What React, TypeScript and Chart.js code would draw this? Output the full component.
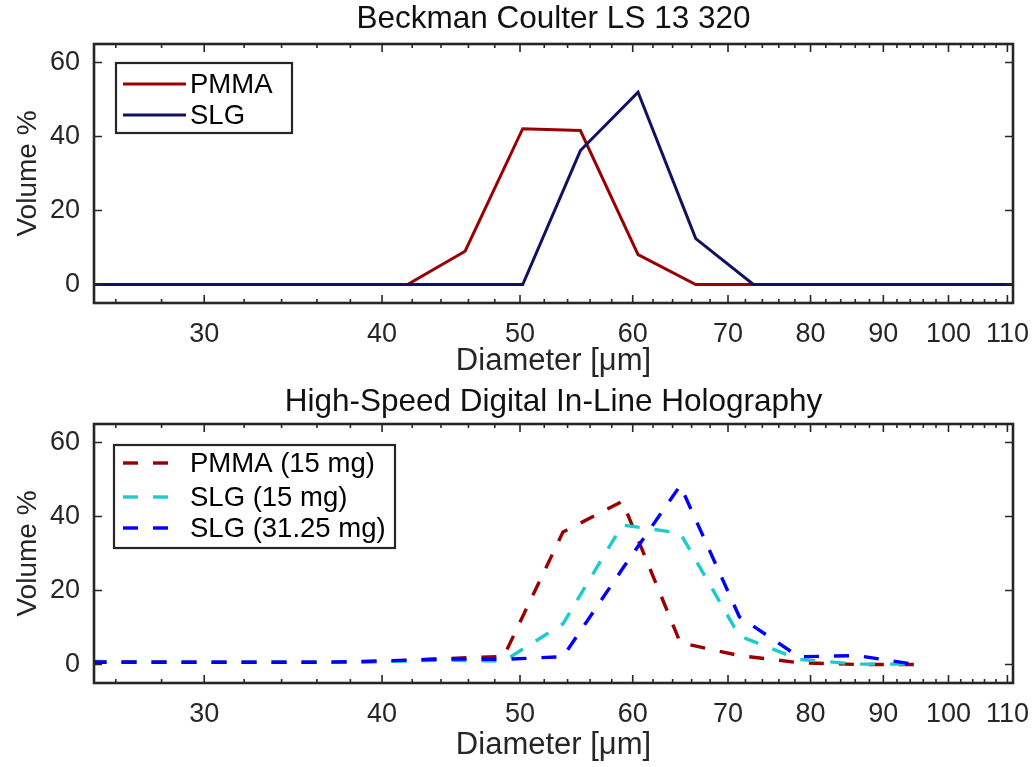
import React, { useEffect, useRef } from 'react';
import { Chart, registerables } from 'chart.js';

Chart.register(...registerables);

// ---------- data ----------
const xTickValues = [30, 40, 50, 60, 70, 80, 90, 100, 110];
const xMinorTickValues = [26, 28, 32, 34, 36, 38, 42, 44, 46, 48, 52, 54, 56, 58, 62, 64, 66, 68, 72, 74, 76, 78, 82, 84, 86, 88, 92, 94, 96, 98, 102, 104, 106, 108];
const yTickValues = [0, 20, 40, 60];

const lsDiameters = [25, 41.68, 45.75, 50.22, 55.13, 60.52, 66.44, 72.94, 111];
const lsPMMA = [0, 0, 9.0, 42.1, 41.6, 8.1, 0, 0, 0];
const lsSLG = [0, 0, 0, 0, 36.2, 52.0, 12.4, 0, 0];

const holoDiameters = [25.0, 27.5, 30.3, 33.3, 36.6, 40.3, 44.3, 48.7, 53.6, 59.0, 64.8, 71.3, 78.5, 86.3, 94.9];
const holoPMMA15 = [0.8, 0.7, 0.6, 0.6, 0.6, 0.8, 1.6, 2.2, 35.8, 44.1, 5.9, 2.4, 0.5, 0.0, 0.0];
const holoSLG15 = [0.6, 0.6, 0.6, 0.6, 0.6, 0.8, 1.2, 0.9, 11.0, 37.7, 35.5, 7.7, 1.4, 0.1, 0.1];
const holoSLG3125 = [0.6, 0.6, 0.6, 0.6, 0.6, 1.0, 1.5, 1.4, 2.1, 25.8, 48.4, 12.9, 2.1, 2.4, 0.0];

const topTitle = 'Beckman Coulter LS 13 320';
const bottomTitle = 'High-Speed Digital In-Line Holography';
const xLabel = 'Diameter [μm]';
const yLabel = 'Volume %';

// ---------- styles ----------
const FONT = '"Liberation Sans", Arial, Helvetica, sans-serif';
const AXIS_COLOR = '#262626';
const RED = '#990000';
const NAVY = '#12125e';
const CYAN = '#1ccccc';
const BLUE = '#0000ff';

const toPoints = (xs: number[], ys: number[]) => xs.map((x, i) => ({ x, y: ys[i] }));

type LegendLayout = {
  x: number; y: number; w: number; h: number;
  rowY: number[]; sampleFrom: number; sampleTo: number; textX: number;
};

const makeFramePlugin = (title: string, titleY: number, legend: LegendLayout) => ({
  id: 'matlabFrame',
  afterDatasetsDraw(chart: any) {
    const { ctx, chartArea: a, scales } = chart;
    ctx.save();
    ctx.strokeStyle = AXIS_COLOR;
    ctx.lineWidth = 1.6;
    ctx.setLineDash([]);
    ctx.beginPath();
    const xTicks = (vals: number[], len: number) => {
      vals.forEach((v) => {
        const px = scales.x.getPixelForValue(v);
        ctx.moveTo(px, a.bottom);
        ctx.lineTo(px, a.bottom - len);
        ctx.moveTo(px, a.top);
        ctx.lineTo(px, a.top + len);
      });
    };
    xTicks(xTickValues, 8);
    xTicks(xMinorTickValues, 4);
    yTickValues.forEach((v) => {
      const py = scales.y.getPixelForValue(v);
      ctx.moveTo(a.left, py);
      ctx.lineTo(a.left + 8, py);
      ctx.moveTo(a.right, py);
      ctx.lineTo(a.right - 8, py);
    });
    ctx.stroke();

    // frame
    ctx.lineWidth = 2.6;
    ctx.strokeRect(a.left, a.top, a.right - a.left, a.bottom - a.top);

    // title centred over the axes box
    ctx.fillStyle = '#111111';
    ctx.font = `31.5px ${FONT}`;
    ctx.textAlign = 'center';
    ctx.textBaseline = 'middle';
    ctx.fillText(title, (a.left + a.right) / 2, titleY);

    // legend
    ctx.fillStyle = '#ffffff';
    ctx.fillRect(legend.x, legend.y, legend.w, legend.h);
    ctx.lineWidth = 2.2;
    ctx.strokeStyle = AXIS_COLOR;
    ctx.strokeRect(legend.x, legend.y, legend.w, legend.h);
    ctx.font = `27.5px ${FONT}`;
    ctx.textBaseline = 'middle';
    ctx.textAlign = 'left';
    chart.data.datasets.forEach((ds: any, i: number) => {
      const y = legend.rowY[i];
      ctx.beginPath();
      ctx.strokeStyle = ds.borderColor;
      ctx.lineWidth = ds.borderWidth;
      ctx.setLineDash(ds.borderDash || []);
      ctx.moveTo(legend.sampleFrom, y);
      ctx.lineTo(legend.sampleTo, y);
      ctx.stroke();
      ctx.setLineDash([]);
      ctx.fillStyle = '#000000';
      ctx.fillText(ds.label, legend.textX, y + 1);
    });
    ctx.restore();
  },
});

const makeOptions = (xAxisHeight: number, xTitlePad: number) => ({
  responsive: false,
  maintainAspectRatio: false,
  animation: false as const,
  layout: { padding: { left: 0, right: 23, top: 44, bottom: 0 } },
  elements: { point: { radius: 0, hoverRadius: 0 }, line: { tension: 0 } },
  plugins: {
    legend: { display: false },
    tooltip: { enabled: false },
    title: { display: false },
  },
  scales: {
    x: {
      type: 'logarithmic' as const,
      min: 25.1,
      max: 111,
      grid: { display: false, drawTicks: false },
      border: { display: false },
      afterBuildTicks: (scale: any) => {
        scale.ticks = xTickValues.map((v) => ({ value: v }));
      },
      afterFit: (scale: any) => {
        scale.height = xAxisHeight;
        scale.paddingLeft = 0;
        scale.paddingRight = 0;
      },
      ticks: {
        autoSkip: false,
        maxRotation: 0,
        minRotation: 0,
        padding: 15,
        color: AXIS_COLOR,
        font: { family: FONT, size: 27 },
        callback: (v: any) => String(v),
      },
      title: {
        display: true,
        text: xLabel,
        color: AXIS_COLOR,
        font: { family: FONT, size: 31 },
        padding: { top: 0, bottom: xTitlePad },
      },
    },
    y: {
      type: 'linear' as const,
      min: -5,
      max: 65,
      grid: { display: false, drawTicks: false },
      border: { display: false },
      afterBuildTicks: (scale: any) => {
        scale.ticks = yTickValues.map((v) => ({ value: v }));
      },
      afterFit: (scale: any) => {
        scale.width = 94;
        scale.paddingTop = 0;
        scale.paddingBottom = 0;
      },
      ticks: {
        padding: 14,
        color: AXIS_COLOR,
        font: { family: FONT, size: 27 },
        callback: (v: any) => String(v),
      },
      title: {
        display: true,
        text: yLabel,
        color: AXIS_COLOR,
        font: { family: FONT, size: 28 },
        padding: { top: 11, bottom: 0 },
      },
    },
  },
});

export default function App() {
  const topRef = useRef<HTMLCanvasElement | null>(null);
  const bottomRef = useRef<HTMLCanvasElement | null>(null);

  useEffect(() => {
    document.body.style.margin = '0';
    const charts: Chart[] = [];
    if (topRef.current) {
      charts.push(
        new Chart(topRef.current, {
          type: 'line',
          data: {
            datasets: [
              { label: 'PMMA', data: toPoints(lsDiameters, lsPMMA), borderColor: RED, borderWidth: 3, fill: false, order: 1 },
              { label: 'SLG', data: toPoints(lsDiameters, lsSLG), borderColor: NAVY, borderWidth: 3, fill: false, order: 0 },
            ],
          },
          options: makeOptions(77, 0) as any,
          plugins: [
            makeFramePlugin(topTitle, 19, { x: 116, y: 63, w: 176, h: 70, rowY: [84, 115], sampleFrom: 123, sampleTo: 186, textX: 190 }),
          ],
        })
      );
    }
    if (bottomRef.current) {
      charts.push(
        new Chart(bottomRef.current, {
          type: 'line',
          data: {
            datasets: [
              { label: 'PMMA (15 mg)', data: toPoints(holoDiameters, holoPMMA15), borderColor: RED, borderWidth: 3.4, borderDash: [15, 15], fill: false, order: 2 },
              { label: 'SLG (15 mg)', data: toPoints(holoDiameters, holoSLG15), borderColor: CYAN, borderWidth: 3.4, borderDash: [15, 15], fill: false, order: 1 },
              { label: 'SLG (31.25 mg)', data: toPoints(holoDiameters, holoSLG3125), borderColor: BLUE, borderWidth: 3.4, borderDash: [15, 15], fill: false, order: 0 },
            ],
          },
          options: makeOptions(84, 3) as any,
          plugins: [
            makeFramePlugin(bottomTitle, 22, { x: 114, y: 65, w: 281, h: 103, rowY: [83, 117, 148], sampleFrom: 123, sampleTo: 172, textX: 190 }),
          ],
        })
      );
    }
    return () => charts.forEach((c) => c.destroy());
  }, []);

  return (
    <div style={{ width: 1036, height: 767, background: '#ffffff' }}>
      <canvas ref={topRef} width={1036} height={380} style={{ display: 'block' }} />
      <canvas ref={bottomRef} width={1036} height={387} style={{ display: 'block' }} />
    </div>
  );
}
